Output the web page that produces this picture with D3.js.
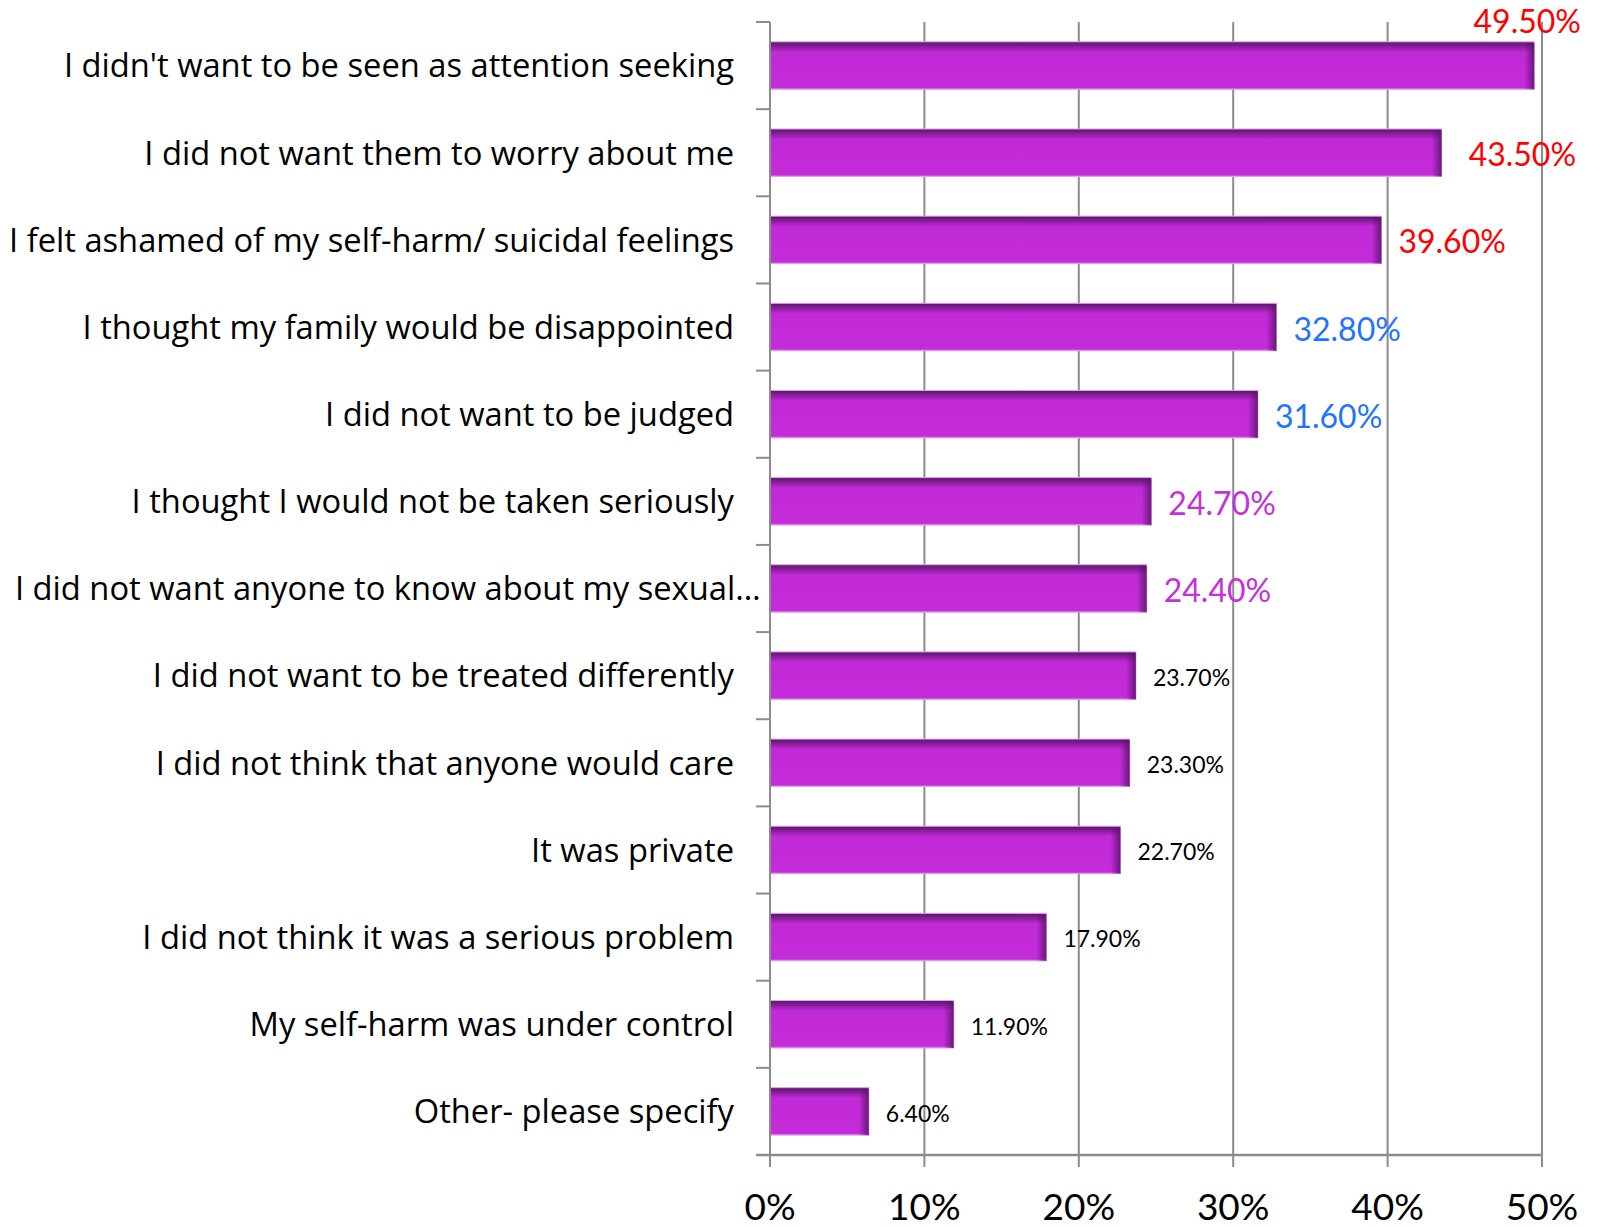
<!DOCTYPE html>
<html>
<head>
<meta charset="utf-8">
<script src="https://cdnjs.cloudflare.com/ajax/libs/d3/7.8.5/d3.min.js"></script>
<style>
  body { margin: 0; background: #fff; }
  text { font-family: Lato, "Open Sans", sans-serif; }
  .cat { font-family: "Open Sans", Lato, sans-serif; }
</style>
</head>
<body>
<div id="chart"></div>
<script>
const categories = [
  "I didn't want to be seen as attention seeking",
  "I did not want them to worry about me",
  "I felt ashamed of my self-harm/ suicidal feelings",
  "I thought my family would be disappointed",
  "I did not want to be judged",
  "I thought I would not be taken seriously",
  "I did not want anyone to know about my sexual…",
  "I did not want to be treated differently",
  "I did not think that anyone would care",
  "It was private",
  "I did not think it was a serious problem",
  "My self-harm was under control",
  "Other- please specify"
];
const values = [49.5, 43.5, 39.6, 32.8, 31.6, 24.7, 24.4, 23.7, 23.3, 22.7, 17.9, 11.9, 6.4];
const labelColors = ["#ff0000", "#ff0000", "#ff0000", "#1f74ff", "#1f74ff", "#c62fdc", "#c62fdc",
  "#000", "#000", "#000", "#000", "#000", "#000"];
const xTicks = [0, 10, 20, 30, 40, 50];

const W = 1598, H = 1227;
const margin = { top: 22, right: 56, bottom: 72, left: 770 };

const svg = d3.select("#chart").append("svg")
  .attr("width", W).attr("height", H);

const x = d3.scaleLinear().domain([0, 50]).range([margin.left, W - margin.right]);
const y = d3.scaleBand().domain(categories).range([margin.top, H - margin.bottom]).paddingInner(0.455).paddingOuter(0.2275);
const band = d3.scaleBand().domain(categories).range([margin.top, H - margin.bottom]);

const defs = svg.append("defs");
const vg = defs.append("linearGradient").attr("id", "barV").attr("x1", 0).attr("x2", 0).attr("y1", 0).attr("y2", 1);
vg.append("stop").attr("offset", 0).attr("stop-color", "#5a146a");
vg.append("stop").attr("offset", 0.22).attr("stop-color", "#c12ad7");
vg.append("stop").attr("offset", 0.96).attr("stop-color", "#c42bd9");
vg.append("stop").attr("offset", 1).attr("stop-color", "#d57fe3");
const hg = defs.append("linearGradient").attr("id", "barH").attr("x1", 0).attr("x2", 1).attr("y1", 0).attr("y2", 0);
hg.append("stop").attr("offset", 0).attr("stop-color", "#5a146a").attr("stop-opacity", 0);
hg.append("stop").attr("offset", 1).attr("stop-color", "#5a146a").attr("stop-opacity", 1);

const grid = "#8c8c8c";
// gridlines
svg.append("g").selectAll("line").data(xTicks.slice(1)).join("line")
  .attr("x1", d => x(d)).attr("x2", d => x(d))
  .attr("y1", margin.top).attr("y2", H - margin.bottom)
  .attr("stroke", grid).attr("stroke-width", 2);

// bars
const bars = svg.append("g").selectAll("g").data(categories).join("g");
bars.append("rect")
  .attr("x", x(0)).attr("y", d => y(d))
  .attr("width", (d, i) => x(values[i]) - x(0)).attr("height", y.bandwidth())
  .attr("fill", "url(#barV)").attr("stroke", "#dca6e8").attr("stroke-width", 1);
bars.append("rect")
  .attr("x", (d, i) => x(values[i]) - 10).attr("y", d => y(d) + 1)
  .attr("width", 10).attr("height", y.bandwidth() - 1)
  .attr("fill", "url(#barH)").attr("opacity", 0.85);

// left axis with ticks at band boundaries
const ax = svg.append("g");
ax.append("line").attr("x1", x(0)).attr("x2", x(0)).attr("y1", margin.top).attr("y2", H - margin.bottom)
  .attr("stroke", grid).attr("stroke-width", 2);
ax.selectAll(".lt").data(categories).join("line").attr("class", "lt")
  .attr("x1", x(0) - 14).attr("x2", x(0))
  .attr("y1", d => band(d)).attr("y2", d => band(d))
  .attr("stroke", grid).attr("stroke-width", 2);
ax.append("line").attr("x1", x(0) - 14).attr("x2", x(50)).attr("y1", H - margin.bottom).attr("y2", H - margin.bottom)
  .attr("stroke", grid).attr("stroke-width", 2.5);
ax.selectAll(".bt").data(xTicks).join("line").attr("class", "bt")
  .attr("x1", d => x(d)).attr("x2", d => x(d))
  .attr("y1", H - margin.bottom).attr("y2", H - margin.bottom + 12)
  .attr("stroke", grid).attr("stroke-width", 2);
ax.selectAll(".tl").data(xTicks).join("text").attr("class", "tl")
  .attr("x", d => x(d)).attr("y", 1220)
  .attr("text-anchor", "middle").attr("font-size", 37).attr("fill", "#000")
  .text(d => d + "%");

// category labels
svg.append("g").selectAll("text").data(categories).join("text")
  .attr("class", "cat")
  .attr("x", 734).attr("y", d => band(d) + band.bandwidth() / 2)
  .attr("dy", "0.36em").attr("text-anchor", "end")
  .attr("font-size", 32.7).attr("fill", "#000")
  .text(d => d)
  .each(function () {
    const w = this.getComputedTextLength();
    if (734 - w < 5) d3.select(this).attr("text-anchor", "start").attr("x", 15);
  });

// value labels
svg.append("g").selectAll("text").data(categories).join("text")
  .attr("x", (d, i) => x(values[i]) + 17)
  .attr("y", d => y(d) + y.bandwidth() / 2 + 2)
  .attr("dy", "0.36em")
  .attr("font-size", (d, i) => labelColors[i] === "#000" ? 23 : 32)
  .attr("fill", (d, i) => labelColors[i])
  .text((d, i) => values[i].toFixed(2) + "%")
  .each(function (d, i) {
    const w = this.getComputedTextLength();
    const sx = x(values[i]) + 17;
    if (sx + w > W - 10) {
      // does not fit to the right: move it above the bar, against the right edge
      d3.select(this).attr("x", W - 17 - w).attr("y", y(d) - 20);
    } else if (sx + w > W - 40) {
      // close to the edge: Excel pushes it a little further out
      d3.select(this).attr("x", sx + 10);
    }
  });
</script>
</body>
</html>
